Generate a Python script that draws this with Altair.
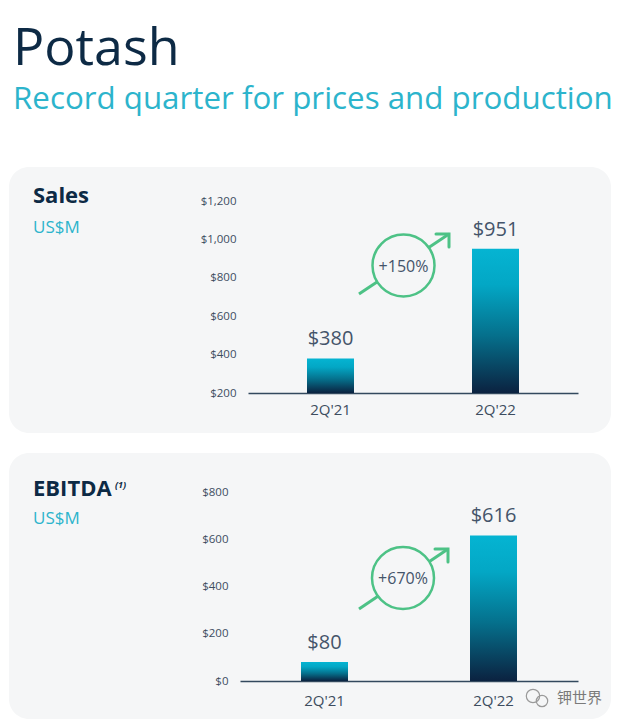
import altair as alt
import pandas as pd

# ---------------- data ----------------
categories = ["2Q'21", "2Q'22"]
sales_values = [380, 951]
ebitda_values = [80, 616]
sales_ticks = [200, 400, 600, 800, 1000, 1200]
ebitda_ticks = [0, 200, 400, 600, 800]
growth_labels = ["+150%", "+670%"]
panel_titles = ["Sales", "EBITDA"]
unit_label = "US$M"
footnote_mark = "(1)"
title_text = "Potash"
subtitle_text = "Record quarter for prices and production"
watermark_text = "钾世界"

# ---------------- styles ----------------
FONT = "Open Sans"
NAVY = "#0d2a45"
CYAN = "#2cb4cc"
GREEN = "#4dc286"
PANEL_BG = "#f5f6f7"
LABEL = "#44546a"
AXIS_LABEL = "#3d4d5f"
PANEL_W = 602
PANEL_H = 266

gradient = alt.LinearGradient(
    gradient="linear", x1=0, y1=0, x2=0, y2=1,
    stops=[
        alt.GradientStop(offset=0, color="#05b4d2"),
        alt.GradientStop(offset=0.25, color="#03a7c5"),
        alt.GradientStop(offset=0.6, color="#05708c"),
        alt.GradientStop(offset=1, color="#0b2240"),
    ],
)


def one(text):
    return pd.DataFrame({"t": [text]})


def text_at(text, x, y, **kw):
    return alt.Chart(one(text)).mark_text(**kw).encode(
        x=alt.value(x), y=alt.value(y), text="t:N"
    )


def panel(values, ticks, y_range, x_range, label_right, base_y, x_label_pad,
          title, title_base, unit_base, circle_c, arrow, growth, footnote=False,
          watermark=False):
    df = pd.DataFrame({"quarter": categories, "value": values})
    x = alt.X(
        "quarter:N", sort=categories,
        scale=alt.Scale(domain=categories, range=x_range, paddingInner=0, paddingOuter=0),
        axis=alt.Axis(
            title=None, ticks=False, tickSize=0, domainColor="#33495e", domainWidth=1.5,
            labelFont=FONT, labelFontSize=15, labelColor=AXIS_LABEL, labelAngle=0,
            labelPadding=x_label_pad, offset=-(PANEL_H - base_y),
        ),
    )
    y = alt.Y(
        "value:Q",
        scale=alt.Scale(domain=[ticks[0], ticks[-1]], range=y_range, nice=False, zero=False),
        axis=alt.Axis(
            title=None, values=ticks, format="$,d", grid=False, domain=False, ticks=False,
            tickSize=0, labelPadding=0, labelFont=FONT, labelFontSize=11.5,
            labelColor=AXIS_LABEL, offset=-label_right,
        ),
    )
    base = alt.Chart(df)
    bars = base.mark_bar(size=47, color=gradient).encode(
        x=x, y=y, y2=alt.datum(ticks[0])
    )
    vals = base.mark_text(
        dy=-13, baseline="alphabetic", font=FONT, fontSize=20, color=LABEL
    ).encode(x=x, y=y, text=alt.Text("value:Q", format="$,d"))

    (ax0, ay0), (ax1, ay1) = arrow
    line = alt.Chart(one(growth)).mark_rule(stroke=GREEN, strokeWidth=3).encode(
        x=alt.value(ax0), y=alt.value(ay0), x2=alt.value(ax1), y2=alt.value(ay1)
    )
    ring = alt.Chart(one(growth)).mark_point(
        shape="circle", filled=True, fill=PANEL_BG, stroke=GREEN, strokeWidth=2.5,
        size=3844, opacity=1,
    ).encode(x=alt.value(circle_c[0]), y=alt.value(circle_c[1]))
    head = alt.Chart(one(growth)).mark_point(
        shape="M-1,1L0,0L1,1", filled=False, stroke=GREEN, strokeWidth=3,
        size=338, angle=45, strokeCap="round", opacity=1,
    ).encode(x=alt.value(ax1), y=alt.value(ay1))
    gtext = text_at(growth, circle_c[0], circle_c[1] + 1, font=FONT, fontSize=16,
                    color=LABEL, align="center", baseline="middle")

    ttl = text_at(title, 24, title_base, font=FONT, fontSize=22, fontWeight="bold",
                  color=NAVY, align="left", baseline="alphabetic")
    unit = text_at(unit_label, 24, unit_base, font=FONT, fontSize=17, color=CYAN,
                   align="left", baseline="alphabetic")
    layers = [bars, vals, line, ring, gtext, head, ttl, unit]
    if footnote:
        layers.append(text_at(footnote_mark, 106, title_base - 8, font=FONT, fontSize=9,
                              fontStyle="italic", fontWeight="bold", color=NAVY,
                              align="left", baseline="alphabetic"))
    if watermark:
        layers.append(text_at(watermark_text, 548, 245, font="Noto Sans CJK SC",
                              fontSize=15, color="#7a7a7a", align="left",
                              baseline="middle"))
        for cx, cy, sz in [(524, 243, 180), (533, 248, 130)]:
            layers.append(
                alt.Chart(one(watermark_text)).mark_point(
                    shape="circle", filled=False, stroke="#9a9a9a", strokeWidth=1.2,
                    size=sz, opacity=1,
                ).encode(x=alt.value(cx), y=alt.value(cy))
            )
    return alt.layer(*layers).properties(
        width=PANEL_W, height=PANEL_H,
        view=alt.ViewBackground(fill=PANEL_BG, cornerRadius=20, strokeWidth=0,
                                strokeOpacity=0),
    )


sales_panel = panel(
    sales_values, sales_ticks, y_range=[226, 34], x_range=[239, 569],
    label_right=227, base_y=226, x_label_pad=9, title=panel_titles[0],
    title_base=36, unit_base=66, circle_c=(394.5, 98.5),
    arrow=((350, 127), (440, 67)), growth=growth_labels[0],
)
ebitda_panel = panel(
    ebitda_values, ebitda_ticks, y_range=[228, 39], x_range=[231, 569],
    label_right=219, base_y=228, x_label_pad=12, title=panel_titles[1],
    title_base=43, unit_base=71, circle_c=(394, 125),
    arrow=((350, 156), (439, 96)), growth=growth_labels[1], footnote=True,
    watermark=True,
)

chart = (
    alt.vconcat(sales_panel, ebitda_panel, spacing=20)
    .properties(
        title=alt.TitleParams(
            text=title_text, subtitle=subtitle_text, anchor="start", font=FONT,
            fontSize=52, fontWeight="normal", color=NAVY, subtitleFont=FONT,
            subtitleFontSize=31.3, subtitleColor=CYAN, subtitlePadding=8, offset=51,
            dx=4,
        ),
        padding={"left": 1, "top": 14, "right": 0, "bottom": 0},
    )
    .configure_view(fill=PANEL_BG, strokeWidth=0, strokeOpacity=0, cornerRadius=20)
    .configure(background="white")
)

chart.save("out.html", embed_options={"renderer": "svg", "actions": False})
